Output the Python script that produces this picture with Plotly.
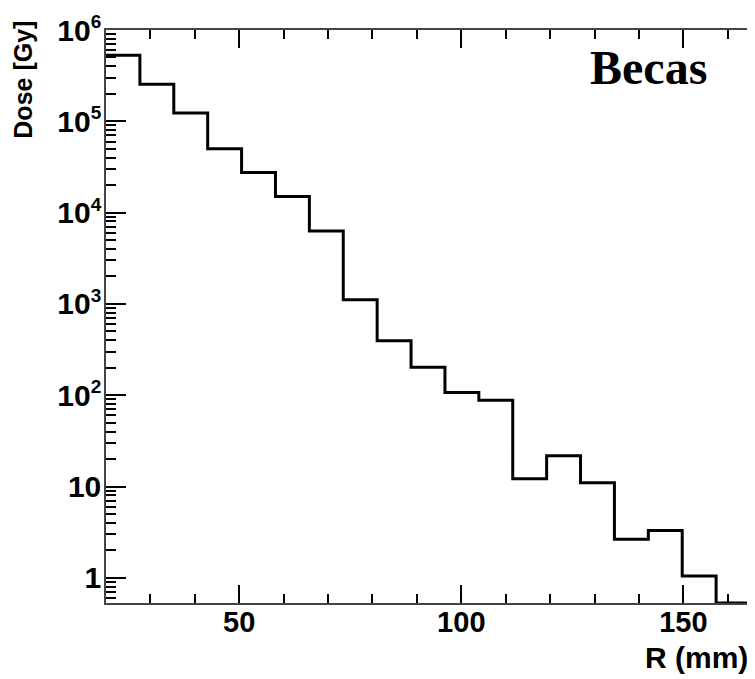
import numpy as np
import plotly.graph_objects as go

# Binning of the histogram (R in mm)
r_min = 20.0
r_max = 165.0
n_bins = 19

# Dose per bin [Gy]
dose = [5.3e5, 2.55e5, 1.23e5, 5.0e4, 2.75e4, 1.5e4, 6.3e3, 1.11e3, 395,
        203, 107, 88, 12.2, 21.7, 11.0, 2.65, 3.3, 1.05, 0.53]

x_ticks = [50, 100, 150]
y_ticks = [1, 10, 1e2, 1e3, 1e4, 1e5, 1e6]
y_tick_text = ["1", "10",
               "10<sup><span style='font-size:19px'>2</span></sup>",
               "10<sup><span style='font-size:19px'>3</span></sup>",
               "10<sup><span style='font-size:19px'>4</span></sup>",
               "10<sup><span style='font-size:19px'>5</span></sup>",
               "10<sup><span style='font-size:19px'>6</span></sup>"]
x_title = "R (mm)"
y_title = "Dose [Gy]"
label = "Becas"

edges = np.linspace(r_min, r_max, n_bins + 1)
x_step = list(edges)
y_step = list(dose) + [dose[-1]]

y_minor = [m * d for d in [0.1, 1, 10, 100, 1e3, 1e4, 1e5] for m in range(2, 10)]

fig = go.Figure()
fig.add_trace(go.Scatter(
    x=x_step, y=y_step, mode="lines",
    line=dict(shape="hv", color="black", width=3),
    showlegend=False, hoverinfo="skip",
))

axis_col = "#444444"
fig.update_layout(
    width=747, height=671,
    margin=dict(l=97.5, r=3, t=13, b=76.3),
    paper_bgcolor="white", plot_bgcolor="white",
    xaxis=dict(
        range=[r_min, r_max], showgrid=False, zeroline=False,
        showline=True, linecolor=axis_col, linewidth=1.5, mirror="ticks",
        ticks="inside", ticklen=18, tickwidth=1.5, tickcolor="black",
        tickvals=x_ticks, ticklabelstandoff=-8,
        tickfont=dict(family="Liberation Sans", size=29, color="black", weight="bold"),
        minor=dict(ticks="inside", ticklen=9, tickwidth=1.5, tickcolor="black", dtick=10, showgrid=False),
    ),
    yaxis=dict(
        type="log", range=[np.log10(dose[-1]), 6.0], showgrid=False, zeroline=False,
        showline=True, linecolor=axis_col, linewidth=1.5, mirror=True,
        ticks="inside", ticklen=20, tickwidth=1.5, tickcolor="black",
        tickmode="array", tickvals=y_ticks, ticktext=y_tick_text,
        ticklabelstandoff=-3, ticklabeloverflow="allow",
        tickfont=dict(family="Liberation Sans", size=30, color="black", weight="bold"),
        minor=dict(ticks="inside", ticklen=10, tickwidth=1.5, tickcolor="black",
                   tickmode="array", tickvals=y_minor, showgrid=False),
    ),
    annotations=[
        dict(text=y_title, xref="paper", yref="paper", x=-0.128, y=1.019,
             xanchor="center", yanchor="top", textangle=-90, showarrow=False,
             font=dict(family="Liberation Sans", size=25, color="black", weight="bold")),
        dict(text=x_title, xref="paper", yref="paper", x=1.0, y=-0.095,
             xanchor="right", yanchor="middle", showarrow=False,
             font=dict(family="Liberation Sans", size=30, color="black", weight="bold")),
        dict(text=label, xref="paper", yref="paper", x=0.937, y=0.935,
             xanchor="right", yanchor="middle", showarrow=False,
             font=dict(family="Liberation Serif", size=48, color="black", weight="bold")),
    ],
)

fig.write_html("out.html")
